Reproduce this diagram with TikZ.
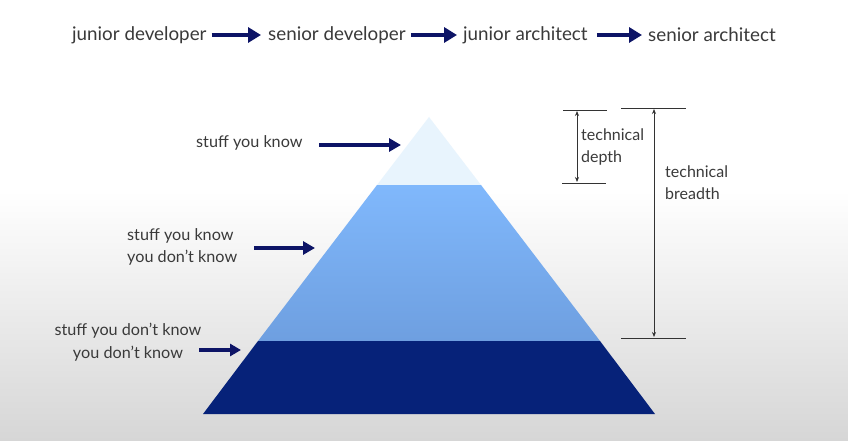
\documentclass[tikz,border=0pt]{standalone}
\usepackage{fontspec}
\setmainfont{Lato}
\usetikzlibrary{arrows.meta}
\definecolor{txt}{HTML}{3A3A3A}
\definecolor{navy}{HTML}{0D1466}
\definecolor{tiptop}{HTML}{E8F4FD}
\definecolor{midtop}{HTML}{80B8FC}
\definecolor{midbot}{HTML}{6E9FE0}
\definecolor{base}{HTML}{062279}
\definecolor{floor}{HTML}{D6D6D6}
\begin{document}
\begin{tikzpicture}[x=1pt,y=-1pt,
  lbl/.style={text=txt,font=\fontsize{18.8}{22}\selectfont,inner sep=0pt},
  side/.style={text=txt,font=\fontsize{16.2}{21.5}\selectfont,inner sep=0pt},
  dim/.style={text=txt,font=\fontsize{16}{22}\selectfont,inner sep=0pt,align=left,anchor=west},
  bigarrow/.style={navy,line width=4pt,-{Triangle[length=13pt,width=15pt]}},
  pointer/.style={navy,line width=3.2pt,-{Triangle[length=12pt,width=13pt]}},
  tick/.style={black!80,line width=0.8pt},
  span/.style={black!80,line width=0.8pt,{Stealth[length=5pt,width=4pt]}-{Stealth[length=5pt,width=4pt]}}]
% backdrop: white fading to light grey near the floor
\fill[white] (0,0) rectangle (848,441);
\shade[top color=white,bottom color=floor] (0,190) rectangle (848,441);
\useasboundingbox (0,0) rectangle (848,441);

% career path
\node[lbl,anchor=west] (jd) at (72,35) {junior developer};
\node[lbl,anchor=west] (sd) at (268,35) {senior developer};
\node[lbl,anchor=west] (ja) at (463,35) {junior architect};
\node[lbl,anchor=west] (sa) at (648,35) {senior architect};
\draw[bigarrow] ([xshift=5pt]jd.east) -- ([xshift=-7pt]sd.west);
\draw[bigarrow] ([xshift=5pt]sd.east) -- ([xshift=-6pt]ja.west);
\draw[bigarrow] ([xshift=9pt]ja.east) -- ([xshift=-6pt]sa.west);

% pyramid layers
\coordinate (apex) at (429,117);
\fill[tiptop] (apex) -- (481,185) -- (377,185) -- cycle;
\shade[top color=midtop,bottom color=midbot] (377,185) -- (481,185) -- (600,341) -- (258,341) -- cycle;
\fill[base] (258,341) -- (600,341) -- (655,414) -- (203,414) -- cycle;

% layer labels and pointers
\node[side,anchor=west] (k) at (196,143) {stuff you know};
\coordinate (kp) at (401,145);
\draw[pointer] (319,145) -- (kp);
\node[side,align=left,anchor=west] (kd) at (127,247) {stuff you know\\you don’t know};
\coordinate (kdp) at (315,248);
\draw[pointer] (254,248) -- (kdp);
\node[side,align=center,font=\fontsize{16.2}{23}\selectfont] (dd) at (128,342) {stuff you don’t know\\you don’t know};
\coordinate (ddp) at (241,350);
\draw[pointer,-{Triangle[length=11pt,width=12pt]}] (199,350) -- (ddp);

% dimension markers
\coordinate (d1) at (563,110); \coordinate (d2) at (607,110);
\coordinate (d3) at (562,183); \coordinate (d4) at (606,183);
\draw[tick] (d1) -- (d2);
\draw[tick] (d3) -- (d4);
\coordinate (da) at (577,111); \coordinate (db) at (577,182);
\draw[span] (da) -- (db);
\node[dim] (depth) at (581,147) {technical\\depth};

\coordinate (b1) at (621,108); \coordinate (b2) at (686,108);
\coordinate (b3) at (621,338); \coordinate (b4) at (686,338);
\draw[tick] (b1) -- (b2);
\draw[tick] (b3) -- (b4);
\coordinate (ba) at (654,109); \coordinate (bb) at (654,337);
\draw[span] (ba) -- (bb);
\node[dim] (breadth) at (665,183) {technical\\breadth};
\end{tikzpicture}
\end{document}
